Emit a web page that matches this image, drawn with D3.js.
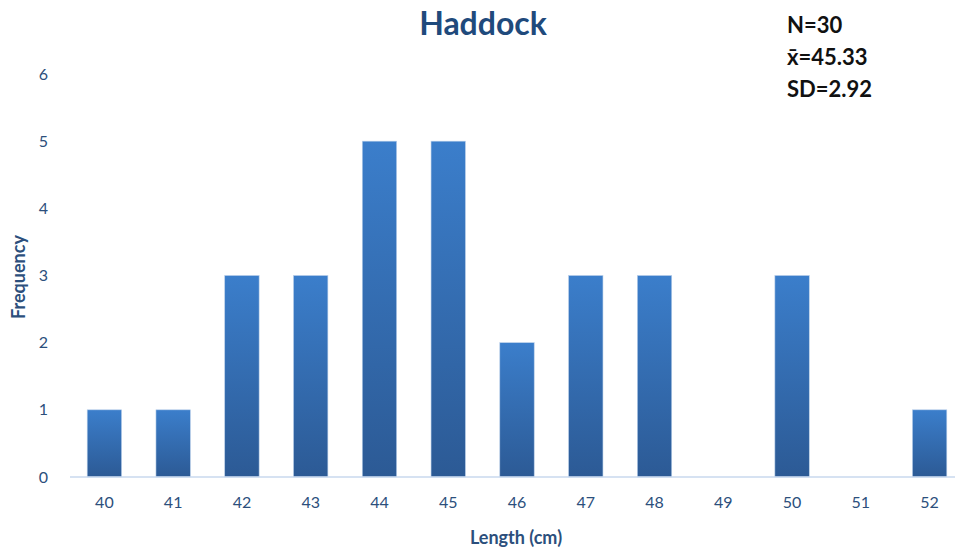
<!DOCTYPE html>
<html>
  <head>
    <title>Haddock</title>
    <script src="https://d3js.org/d3.v7.min.js"></script>
    <style>
      body { margin: 0; background: #fff; }
      text { font-family: Lato, "Open Sans", sans-serif; }
    </style>
  </head>

  <body>
    <svg width="955" height="552"></svg>

    <script type="text/javascript">
      // data
      var lengths = ["40", "41", "42", "43", "44", "45", "46", "47", "48", "49", "50", "51", "52"];
      var counts = [1, 1, 3, 3, 5, 5, 2, 3, 3, 0, 3, 0, 1];
      var yTicks = [0, 1, 2, 3, 4, 5, 6];
      var stats = ["N=30", "x\u0304=45.33", "SD=2.92"];

      var svg = d3.select("svg");
      var textColor = "#2c4f7c";

      var xScale = d3.scaleBand().domain(lengths).range([70, 964]).paddingInner(0.5).paddingOuter(0.25);
      var yScale = d3.scaleLinear().domain([0, 6]).range([477, 74]);

      // bar gradient
      var grad = svg.append("defs")
        .append("linearGradient")
        .attr("id", "barGrad")
        .attr("x1", 0).attr("y1", 0)
        .attr("x2", 0).attr("y2", 1);
      grad.append("stop").attr("offset", "0%").attr("stop-color", "#3b7ecb");
      grad.append("stop").attr("offset", "100%").attr("stop-color", "#2c5a95");

      // y axis labels (no line)
      var yAxis = svg.append("g")
        .attr("transform", "translate(52,0)")
        .call(d3.axisLeft(yScale).tickValues(yTicks).tickFormat(d3.format("d")).tickSize(0).tickPadding(4));
      yAxis.select(".domain").remove();
      yAxis.selectAll("text")
        .attr("fill", textColor)
        .style("font-size", "16px")
        .style("font-family", "Lato, sans-serif");

      // bars
      svg.append("g")
        .selectAll("rect")
        .data(counts)
        .enter()
        .append("rect")
        .attr("x", function (d, i) { return xScale(lengths[i]); })
        .attr("y", function (d) { return yScale(d); })
        .attr("width", xScale.bandwidth())
        .attr("height", function (d) { return yScale(0) - yScale(d); })
        .attr("fill", "url(#barGrad)")
        .attr("stroke", "#b9cfe9")
        .attr("stroke-width", 0.6)
        .style("display", function (d) { return d > 0 ? null : "none"; });

      // x axis
      var xAxis = svg.append("g")
        .attr("transform", "translate(0," + yScale(0) + ")")
        .call(d3.axisBottom(xScale).tickSize(0).tickPadding(20));
      xAxis.select(".domain")
        .attr("stroke", "#c9d9ee")
        .attr("stroke-width", 1.5)
        .attr("d", "M70,0H955");
      xAxis.selectAll("text")
        .attr("fill", textColor)
        .style("font-size", "16px")
        .style("font-family", "Lato, sans-serif");

      // title
      svg.append("text")
        .attr("x", 483)
        .attr("y", 35)
        .attr("text-anchor", "middle")
        .attr("fill", "#1f4a7c")
        .style("font-size", "32px")
        .style("font-weight", "bold")
        .text("Haddock");

      // axis titles
      svg.append("text")
        .attr("x", 516)
        .attr("y", 544)
        .attr("text-anchor", "middle")
        .attr("fill", textColor)
        .style("font-size", "18px")
        .style("font-weight", "bold")
        .text("Length (cm)");

      svg.append("text")
        .attr("transform", "translate(25,277) rotate(-90)")
        .attr("text-anchor", "middle")
        .attr("fill", textColor)
        .style("font-size", "18px")
        .style("font-weight", "bold")
        .text("Frequency");

      // stats box
      svg.append("g")
        .selectAll("text")
        .data(stats)
        .enter()
        .append("text")
        .attr("x", 787)
        .attr("y", function (d, i) { return 33 + i * 32; })
        .attr("fill", "#111")
        .style("font-size", "22px")
        .style("font-weight", "bold")
        .text(function (d) { return d; });
    </script>
  </body>
</html>
